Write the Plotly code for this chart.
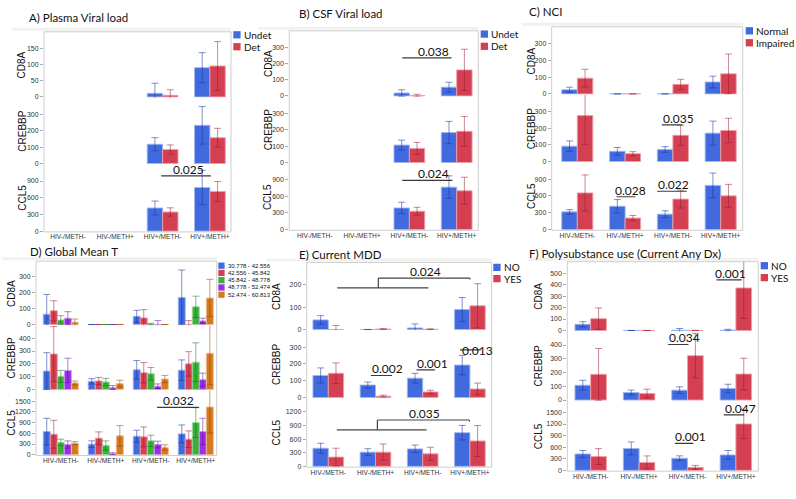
import plotly.graph_objects as go

W, H = 796, 499

groups = ["HIV-/METH-", "HIV-/METH+", "HIV+/METH-", "HIV+/METH+"]
genes = ["CD8A", "CREBBP", "CCL5"]

# A) Plasma viral load
plasma_names = ["Undet", "Det"]
plasma_cd8a = [[None, None, 11, 90], [None, None, 5, 95]]
plasma_cd8a_err = [[None, None, 31, 46], [None, None, 17, 75]]
plasma_crebbp = [[None, None, 117, 232], [None, None, 85, 157]]
plasma_crebbp_err = [[None, None, 40, 114], [None, None, 28, 57]]
plasma_ccl5 = [[None, None, 415, 783], [None, None, 343, 712]]
plasma_ccl5_err = [[None, None, 125, 310], [None, None, 75, 178]]

# B) CSF viral load
csf_names = ["Undet", "Det"]
csf_cd8a = [[None, None, 18, 54], [None, None, 2, 160]]
csf_cd8a_err = [[None, None, 20, 30], [None, None, 8, 127]]
csf_crebbp = [[None, None, 106, 182], [None, None, 86, 190]]
csf_crebbp_err = [[None, None, 30, 68], [None, None, 36, 90]]
csf_ccl5 = [[None, None, 391, 768], [None, None, 331, 702]]
csf_ccl5_err = [[None, None, 103, 205], [None, None, 72, 246]]

# C) NCI
nci_names = ["Normal", "Impaired"]
nci_cd8a = [[25, 0, 0, 71], [94, 0, 57, 120]]
nci_cd8a_err = [[15, 0, 0, 35], [53, 0, 30, 118]]
nci_crebbp = [[92, 61, 72, 170], [275, 47, 157, 186]]
nci_crebbp_err = [[31, 23, 17, 72], [172, 12, 60, 73]]
nci_ccl5 = [[315, 415, 274, 788], [654, 204, 543, 601]]
nci_ccl5_err = [[40, 120, 60, 220], [320, 47, 160, 205]]

# D) Global mean T
gmt_names = ["30.778 - 42.556", "42.556 - 45.842", "45.842 - 48.778",
             "48.778 - 52.474", "52.474 - 60.813"]
gmt_cd8a = [[65, 0, 52, 171], [87, 0, 42, 0], [29, 0, 3, 112],
            [40, 0, 0, 23], [15, 0, 0, 167]]
gmt_cd8a_err = [[125, 0, 38, 173], [63, 0, 52, 25], [27, 0, 5, 67],
                [41, 0, 25, 17], [20, 0, 0, 118]]
gmt_crebbp = [[144, 64, 154, 151], [277, 67, 131, 200], [103, 59, 123, 213],
              [149, 15, 26, 77], [51, 46, 82, 282]]
gmt_crebbp_err = [[143, 21, 72, 80], [213, 28, 79, 95], [46, 28, 49, 151],
                  [95, 16, 18, 51], [16, 26, 28, 245]]
gmt_ccl5 = [[648, 296, 519, 583], [574, 463, 500, 435], [343, 259, 389, 898],
            [287, 28, 287, 648], [324, 528, 204, 1335]]
gmt_ccl5_err = [[371, 93, 166, 250], [389, 176, 278, 232], [92, 130, 157, 417],
                [102, 28, 93, 371], [46, 287, 74, 730]]

# E) Current MDD
mdd_names = ["NO", "YES"]
mdd_cd8a = [[43, 0, 7, 89], [0, 2, 1, 106]]
mdd_cd8a_err = [[19, 0, 18, 54], [18, 2, 2, 99]]
mdd_crebbp = [[131, 74, 115, 193], [144, 8, 33, 51]]
mdd_crebbp_err = [[45, 18, 29, 58], [62, 6, 10, 35]]
mdd_ccl5 = [[400, 313, 385, 742], [204, 313, 276, 560]]
mdd_ccl5_err = [[109, 76, 84, 160], [196, 181, 145, 340]]

# F) Polysubstance use
poly_names = ["NO", "YES"]
poly_cd8a = [[54, 0, 2, 2], [103, 0, 0, 371]]
poly_cd8a_err = [[23, 0, 15, 8], [94, 0, 0, 266]]
poly_crebbp = [[108, 55, 72, 84], [187, 48, 323, 189]]
poly_crebbp_err = [[36, 18, 24, 31], [188, 31, 162, 115]]
poly_ccl5 = [[424, 566, 312, 399], [356, 203, 76, 1202]]
poly_ccl5_err = [[89, 169, 63, 115], [207, 170, 51, 380]]

# p-values: (row, x0, x1, y, label, x text, y text)
plasma_p = [(2, 1.97, 3.02, 994, "0.025", 2.54, 994)]
csf_p = [(0, 1.85, 2.89, 234, "0.038", 2.5, 234),
         (2, 1.85, 2.91, 890, "0.024", 2.5, 890)]
nci_p = [(1, 1.77, 2.20, 219, "0.035", 2.12, 219),
         (2, 0.82, 1.21, 585, "0.028", 1.12, 585),
         (2, 1.67, 2.29, 683, "0.022", 2.01, 683)]
gmt_p = [(2, 2.14, 3.07, 1323, "0.032", 2.61, 1323)]
mdd_p = [(1, 0.90, 1.35, 131, "0.002", 1.26, 131),
         (1, 1.87, 2.26, 164, "0.001", 2.20, 164),
         (1, 2.79, 3.23, 283, "0.013", 3.16, 242)]
poly_p = [(0, 2.60, 3.12, 442, "0.001", 2.88, 442),
          (1, 1.60, 2.02, 404, "0.034", 1.93, 404),
          (2, 2.75, 3.17, 1436, "0.047", 3.10, 1436),
          (2, 1.74, 2.12, 696, "0.001", 2.06, 696)]
# brackets: (row, low x0, low x1, low y, up x0, up x1, up y, label, x text)
mdd_brackets = [(0, 0.19, 2.12, 186, 1.06, 3.0, 230, "0.024", 2.06),
                (2, 0.18, 2.08, 805, 1.04, 2.99, 1022, "0.035", 2.03)]

blue, red = "rgb(64,106,222)", "rgb(212,64,82)"
green, purple, orange = "rgb(58,176,58)", "rgb(158,44,232)", "rgb(214,122,32)"
err_cols = {blue: "rgba(25,55,160,0.55)", red: "rgba(150,20,40,0.5)",
            green: "rgba(20,110,20,0.5)", purple: "rgba(90,10,150,0.5)",
            orange: "rgba(140,70,0,0.5)"}
edge_cols = {blue: "rgba(160,182,240,0.9)", red: "rgba(238,160,170,0.9)",
             green: "rgba(160,220,160,0.9)", purple: "rgba(205,160,240,0.9)",
             orange: "rgba(240,190,140,0.9)"}

NARROW = "Liberation Sans Narrow, Arial Narrow, Liberation Sans, Arial"
TITLEF = "Lato, Open Sans, sans-serif"

panels = [
    dict(title="A) Plasma Viral load", names=plasma_names, colors=[blue, red],
         means=[plasma_cd8a, plasma_crebbp, plasma_ccl5],
         errs=[plasma_cd8a_err, plasma_crebbp_err, plasma_ccl5_err],
         ymax=[200, 400, 1200],
         ticks=[[0, 50, 100, 150], [0, 100, 200, 300], [0, 300, 600, 900]],
         pv=plasma_p, br=[]),
    dict(title="B) CSF Viral load", names=csf_names, colors=[blue, red],
         means=[csf_cd8a, csf_crebbp, csf_ccl5],
         errs=[csf_cd8a_err, csf_crebbp_err, csf_ccl5_err],
         ymax=[400, 400, 1200],
         ticks=[[0, 100, 200, 300], [0, 100, 200, 300], [0, 300, 600, 900]],
         pv=csf_p, br=[]),
    dict(title="C) NCI", names=nci_names, colors=[blue, red],
         means=[nci_cd8a, nci_crebbp, nci_ccl5],
         errs=[nci_cd8a_err, nci_crebbp_err, nci_ccl5_err],
         ymax=[400, 400, 1200],
         ticks=[[0, 100, 200, 300], [0, 100, 200, 300], [0, 300, 600, 900]],
         pv=nci_p, br=[]),
    dict(title="D) Global Mean T", names=gmt_names,
         colors=[blue, red, green, purple, orange],
         means=[gmt_cd8a, gmt_crebbp, gmt_ccl5],
         errs=[gmt_cd8a_err, gmt_crebbp_err, gmt_ccl5_err],
         ymax=[400, 500, 1800],
         ticks=[[0, 100, 200, 300], [0, 100, 200, 300, 400],
                [0, 300, 600, 900, 1200, 1500]],
         pv=gmt_p, br=[]),
    dict(title="E) Current MDD", names=mdd_names, colors=[blue, red],
         means=[mdd_cd8a, mdd_crebbp, mdd_ccl5],
         errs=[mdd_cd8a_err, mdd_crebbp_err, mdd_ccl5_err],
         ymax=[300, 400, 1500],
         ticks=[[0, 100, 200], [0, 100, 200, 300], [0, 300, 600, 900, 1200]],
         pv=mdd_p, br=mdd_brackets),
    dict(title="F) Polysubstance use (Current Any Dx)", names=poly_names,
         colors=[blue, red],
         means=[poly_cd8a, poly_crebbp, poly_ccl5],
         errs=[poly_cd8a_err, poly_crebbp_err, poly_ccl5_err],
         ymax=[600, 500, 1800],
         ticks=[[0, 100, 200, 300, 400, 500], [0, 100, 200, 300, 400],
                [0, 300, 600, 900, 1200, 1500]],
         pv=poly_p, br=[]),
]

# page layout in pixels
boxes = [  # left, right, top, row1, row2, bottom, first centre, step
    (44, 231, 32, 98.3, 165.3, 233.3, 68, 47.3),
    (289.3, 478.3, 31, 97.3, 164.3, 231.7, 314.7, 47.33),
    (551.7, 742.7, 27, 95.3, 163.3, 231.7, 577.3, 47.8),
    (36, 216.7, 262.7, 327.3, 392.7, 458.3, 60.8, 45),
    (306.7, 491.7, 264, 332.3, 400.7, 470, 328.3, 47.2),
    (567.3, 758.3, 263.3, 333.3, 403.3, 474, 590.7, 48.4),
]
title_pos = [(26.7, 17.3), (296.7, 14), (526.7, 11.7), (28, 253), (296.7, 256), (526.7, 255)]
label_x = [21.7, 268.3, 531.7, 11.7, 276.7, 538.3]
legend_pos = [  # x, first y, step, square, font
    (233.3, 35, 12, 7.3, 10), (480.7, 34.3, 12.3, 7.3, 10), (745.7, 31, 12, 7.3, 10),
    (218.3, 267.3, 7.3, 6.3, 6), (493.3, 269, 11.3, 7.3, 10), (760.7, 267.3, 12, 7.3, 10),
]


def px(x):
    return x / W


def py(y):
    return 1 - y / H


fig = go.Figure()
layout = dict(width=W, height=H, margin=dict(l=0, r=0, t=0, b=0), autosize=False,
              plot_bgcolor="white", paper_bgcolor="white", barmode="overlay",
              showlegend=False)
shapes, annots = [], []

for p, pan in enumerate(panels):
    left, right, top, r1, r2, bottom, c0, step = boxes[p]
    xi = p + 1
    xname = "x" if xi == 1 else f"x{xi}"
    edges = [top, r1, r2, bottom]
    nser = len(pan["names"])
    bw = 0.156 if nser > 2 else 0.325
    layout["xaxis" if xi == 1 else f"xaxis{xi}"] = dict(
        domain=[px(left), px(right)],
        range=[(left - c0) / step, (right - c0) / step],
        tickvals=list(range(len(groups))), ticktext=groups, tickangle=0,
        tickfont=dict(family=NARROW, size=6.6, color="#333"),
        showgrid=False, zeroline=False, showline=False, ticks="",
        anchor=f"y{p * 3 + 3}", fixedrange=True)
    for r in range(3):
        n = p * 3 + r + 1
        yname = "y" if n == 1 else f"y{n}"
        ymax = pan["ymax"][r]
        layout["yaxis" if n == 1 else f"yaxis{n}"] = dict(
            domain=[py(edges[r + 1]), py(edges[r])],
            range=[-ymax * 0.012, ymax],
            tickvals=pan["ticks"][r],
            tickfont=dict(family=NARROW, size=7, color="#333"),
            ticks="outside", ticklen=3, tickcolor="#aaa",
            showgrid=False, zeroline=False, showline=False,
            anchor=xname, fixedrange=True)
        for s in range(nser):
            col = pan["colors"][s]
            fig.add_trace(go.Bar(
                x=list(range(len(groups))), y=pan["means"][r][s],
                width=bw, offset=-nser * bw / 2 + s * bw,
                marker=dict(color=col, line=dict(color=edge_cols[col], width=1)),
                error_y=dict(type="data", array=pan["errs"][r][s], symmetric=True,
                             color=err_cols[col], thickness=1, width=3.5),
                name=pan["names"][s], xaxis=xname, yaxis=yname, showlegend=False))
        # row label
        annots.append(dict(text=genes[r], x=px(label_x[p]), y=py((edges[r] + edges[r + 1]) / 2),
                           xref="paper", yref="paper", textangle=-90, showarrow=False,
                           xanchor="center", yanchor="middle",
                           font=dict(family=NARROW, size=10, color="#111")))
    # frame and header band
    shapes.append(dict(type="rect", xref="paper", yref="paper", x0=px(left), x1=px(right),
                       y0=py(bottom), y1=py(top), line=dict(color="#cdcdcd", width=1),
                       layer="below"))
    shapes.append(dict(type="rect", xref="paper", yref="paper", x0=px(label_x[p] - 10),
                       x1=px(right), y0=py(top - 1), y1=py(top - 4),
                       fillcolor="#f1f1ee", line=dict(width=0), layer="below"))
    # title
    tx, ty = title_pos[p]
    annots.append(dict(text=pan["title"], x=px(tx), y=py(ty), xref="paper", yref="paper",
                       xanchor="left", yanchor="middle", showarrow=False,
                       font=dict(family=TITLEF, size=11.5, color="#111")))
    # legend
    lx, ly, ldy, sq, lf = legend_pos[p]
    for s, name in enumerate(pan["names"]):
        yc = ly + s * ldy
        shapes.append(dict(type="rect", xref="paper", yref="paper", x0=px(lx), x1=px(lx + sq),
                           y0=py(yc + sq / 2), y1=py(yc - sq / 2),
                           fillcolor=pan["colors"][s], line=dict(width=0)))
        annots.append(dict(text=name, x=px(lx + sq + 1.2), y=py(yc), xref="paper", yref="paper",
                           xanchor="left", yanchor="middle", showarrow=False,
                           font=dict(family=TITLEF if lf > 8 else NARROW, size=lf, color="#111")))
    # p-values
    for (r, x0, x1, yv, lab, xt, yt) in pan["pv"]:
        n = p * 3 + r + 1
        yname = "y" if n == 1 else f"y{n}"
        shapes.append(dict(type="line", xref=xname, yref=yname, x0=x0, x1=x1, y0=yv, y1=yv,
                           line=dict(color="#3a3a3a", width=1.2)))
        annots.append(dict(text=lab, x=xt, y=yt, xref=xname, yref=yname, xanchor="center",
                           yanchor="bottom", yshift=-3, showarrow=False,
                           font=dict(family=TITLEF, size=12, color="#111")))
    for (r, lx0, lx1, ly0, ux0, ux1, uy, lab, xt) in pan["br"]:
        n = p * 3 + r + 1
        yname = "y" if n == 1 else f"y{n}"
        drop = (uy - ly0) * 0.15
        for seg in [(lx0, ly0, lx1, ly0), (ux0, ly0, ux0, uy), (ux0, uy, ux1, uy),
                    (ux1, uy, ux1, uy - drop)]:
            shapes.append(dict(type="line", xref=xname, yref=yname, x0=seg[0], y0=seg[1],
                               x1=seg[2], y1=seg[3], line=dict(color="#444", width=1.2)))
        annots.append(dict(text=lab, x=xt, y=uy, xref=xname, yref=yname, xanchor="center",
                           yanchor="bottom", yshift=-3, showarrow=False,
                           font=dict(family=TITLEF, size=12, color="#111")))

layout["shapes"] = shapes
layout["annotations"] = annots
fig.update_layout(**layout)
# the page's default body margin would push the fixed-size figure off the window
fig.write_html("out.html", config={"displayModeBar": False},
               post_script="document.body.style.margin='0';")
